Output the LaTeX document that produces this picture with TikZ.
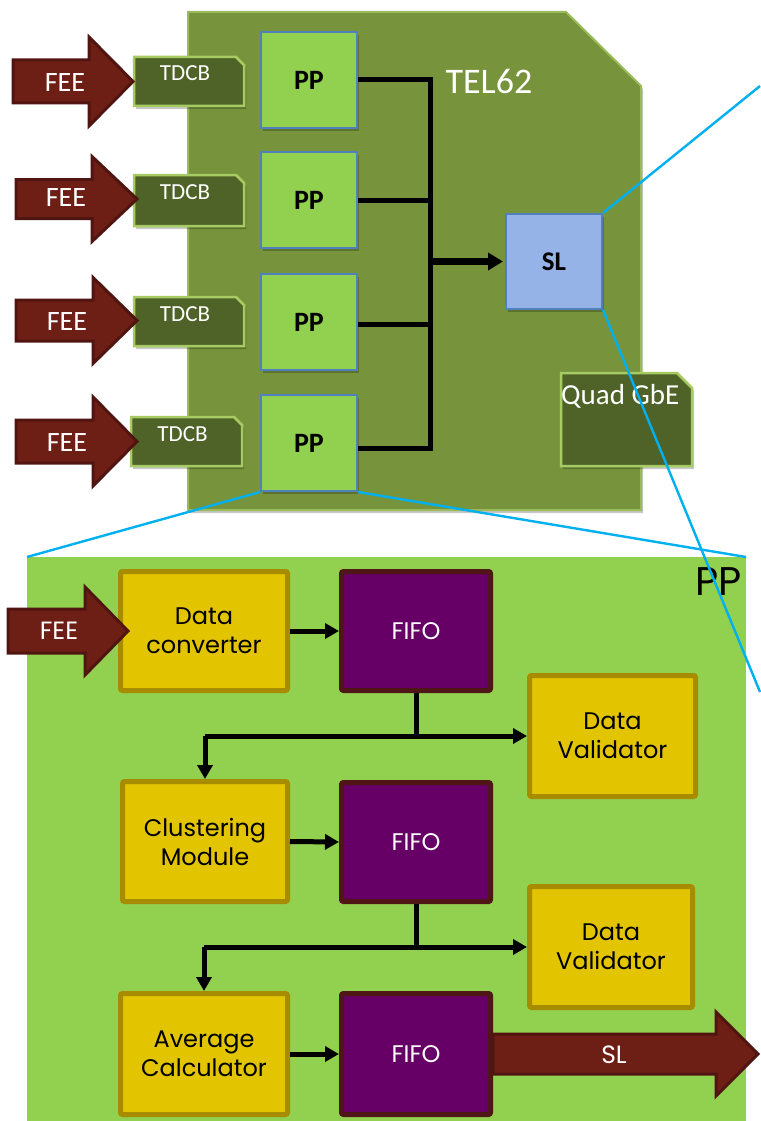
\documentclass[tikz,border=0pt]{standalone}
\usepackage{fontspec}
\setmainfont{Carlito}
\newfontfamily\gothic{Poppins}
\usetikzlibrary{arrows.meta,shadows}

\definecolor{boardgreen}{HTML}{77933C}
\definecolor{boardedge}{HTML}{9BBB59}
\definecolor{cardgreen}{HTML}{4F6228}
\definecolor{cardedge}{HTML}{A6CB62}
\definecolor{ppgreen}{HTML}{92D050}
\definecolor{ppedge}{HTML}{4F81BD}
\definecolor{slblue}{HTML}{95B3E7}
\definecolor{feered}{HTML}{6E1F15}
\definecolor{feeedge}{HTML}{501510}
\definecolor{blockyellow}{HTML}{E2C400}
\definecolor{blockedge}{HTML}{A88C00}
\definecolor{fifopurple}{HTML}{660066}
\definecolor{fifoedge}{HTML}{4F1616}
\definecolor{zoomcyan}{HTML}{00B0F0}

\tikzset{
  softshadow/.style={drop shadow={shadow xshift=2pt,shadow yshift=-3pt,opacity=0.22,fill=black}},
  boardshape/.style={fill=boardgreen,draw=boardedge,line width=2,softshadow},
  cardshape/.style={fill=cardgreen,draw=cardedge,line width=2.5,softshadow},
  frame/.style={inner sep=0,outer sep=0,anchor=north west},
  cardtext/.style={text=white,inner sep=0,anchor=base,font=\fontsize{23}{26}\selectfont},
  ppbox/.style={fill=ppgreen,draw=ppedge,line width=2,minimum size=96,inner sep=0,
    font=\bfseries\fontsize{28}{30}\selectfont,softshadow},
  slbox/.style={fill=slblue,draw=ppedge,line width=2,minimum width=96,minimum height=95,inner sep=0,
    font=\bfseries\fontsize{27}{30}\selectfont,softshadow},
  bus/.style={line width=5,black,line join=miter},
  busarrow/.style={line width=7,black,shorten >=2pt,-{Triangle[length=15pt,width=17pt]}},
  feeshape/.style={fill=feered,draw=feeedge,line width=3,line join=miter},
  feetext/.style={text=white,inner sep=0,font=\fontsize{28}{30}\selectfont},
  gfeetext/.style={text=white,inner sep=0,font=\gothic\fontsize{25}{28}\selectfont},
  block/.style={fill=blockyellow,draw=blockedge,line width=5,rounded corners=2,inner sep=0,
    align=center,font=\gothic\fontsize{24}{29}\selectfont},
  fifo/.style={fill=fifopurple,draw=fifoedge,line width=5,rounded corners=2,inner sep=0,
    text=white,font=\gothic\fontsize{24}{28}\selectfont},
  flow/.style={line width=5,black,line join=miter,-{Triangle[length=14pt,width=15pt]}},
  flowline/.style={line width=5,black,line join=miter},
  zoomline/.style={draw=zoomcyan,line width=2.4},
  pics/fat arrow/.style n args={4}{code={
    \filldraw[feeshape] (0,-#2) -- ({#1-#4},-#2) -- ({#1-#4},-#3) -- (#1,0)
      -- ({#1-#4},#3) -- ({#1-#4},#2) -- (0,#2) -- cycle;
  }},
}

\begin{document}
\begin{tikzpicture}[x=1pt,y=-1pt]
\useasboundingbox (0,0) rectangle (760,1121);

% ---------------- TEL62 board ----------------
\coordinate (bnw) at (188,12);
\coordinate (bcut1) at (566,12);
\coordinate (bcut2) at (641,86);
\coordinate (bse) at (641,510);
\coordinate (bsw) at (188,510);
\path[boardshape] (bnw) -- (bcut1) -- (bcut2) -- (bse) -- (bsw) -- cycle;
\node[text=white,inner sep=0,anchor=base,font=\fontsize{36}{40}\selectfont] (tel62) at (489,94) {TEL62};

% TDCB mezzanine cards (chamfered top-right corner)
\foreach \n/\x/\y/\w/\h in {tdcb1/134/57/110/49, tdcb2/134/175/110/51,
                            tdcb3/134/297/110/49, tdcb4/131/417/111/49} {
  \path[cardshape] (\x,\y) -- ++({\w-8},0) -- ++(8,8) -- ++(0,{\h-8}) -- ++(-\w,0) -- cycle;
  \node[frame,minimum width=\w,minimum height=\h] (\n) at (\x,\y) {};
  \node[cardtext] (\n-label) at ([xshift=-4,yshift=-24]\n.north) {TDCB};
}

% Quad GbE card
\path[cardshape] (561,373) -- (677,373) -- (692,388) -- (692,466) -- (561,466) -- cycle;
\node[frame,minimum width=131,minimum height=93] (quad) at (561,373) {};
\node[text=white,inner sep=0,anchor=base west,font=\fontsize{29}{32}\selectfont]
  (quad-label) at (561,404) {Quad GbE};

% PP and SL FPGAs
\node[ppbox] (pp1) at (309,80) {PP};
\node[ppbox] (pp2) at (309,200) {PP};
\node[ppbox] (pp3) at (309,322) {PP};
\node[ppbox] (pp4) at (309,443) {PP};
\node[slbox] (sl) at (554,261.5) {SL};

% data bus from the PPs to the SL
\coordinate (jt) at (430,80);
\draw[bus] (pp1.east) -- (pp1.east -| jt) -- ([yshift=-5]pp4.east -| jt) -- ([yshift=-5]pp4.east);
\draw[bus] (pp2.east) -- (pp2.east -| jt);
\draw[bus] ([yshift=-2]pp3.east) -- ([yshift=-2]pp3.east -| jt);
\draw[busarrow] (sl.west -| jt) -- (sl.west);

% front-end inputs
\pic at (13,81.5) {fat arrow={120}{21.5}{44.5}{44}};
\pic at (16,199) {fat arrow={121}{19.5}{42.5}{45}};
\pic at (16,320.5) {fat arrow={121}{20.5}{43}{44}};
\pic at (16,441.5) {fat arrow={121}{21.5}{44.5}{44}};
\node[feetext] (fee1) at (65,82.5) {FEE};
\node[feetext] (fee2) at (66,197.5) {FEE};
\node[feetext] (fee3) at (67,321.5) {FEE};
\node[feetext] (fee4) at (67,442.5) {FEE};

% ---------------- PP firmware detail ----------------
\node[fill=ppgreen,inner sep=0,outer sep=0,minimum width=719,minimum height=564] (ppbig) at (386.5,839) {};
\node[inner sep=0,anchor=north east,font=\gothic\fontsize{40}{44}\selectfont] (pplabel) at (742,567) {PP};

\node[block,minimum width=167,minimum height=119] (dc) at (204,631) {Data\\converter};
\node[fifo,minimum width=149,minimum height=119] (fifo1) at (416,631) {FIFO};
\node[block,minimum width=166,minimum height=121] (dv1) at (612.5,736) {Data\\Validator};
\node[block,minimum width=165,minimum height=120] (cm) at (205,841.5) {Clustering\\Module};
\node[fifo,minimum width=149,minimum height=119] (fifo2) at (416,842) {FIFO};
\node[block,minimum width=163,minimum height=121] (dv2) at (611,947) {Data\\Validator};
\node[block,minimum width=167,minimum height=121] (ac) at (204,1054) {Average\\Calculator};
\node[fifo,minimum width=149,minimum height=121] (fifo3) at (416,1054) {FIFO};

\draw[flow] (dc.east) -- (fifo1.west);
\draw[flowline] (fifo1.south) -- (fifo1.south |- dv1.west);
\draw[flow] (cm.north |- dv1.west) -- (dv1.west);
\draw[flow] (cm.north |- dv1.west) -- (cm.north);

\draw[flow] (cm.east) -- (fifo2.west);
\draw[flowline] (fifo2.south) -- (fifo2.south |- dv2.west);
\draw[flow] (ac.north |- dv2.west) -- (dv2.west);
\draw[flow] (ac.north |- dv2.west) -- (ac.north);

\draw[flow] (ac.east) -- (fifo3.west);

% input and output of the PP firmware
\pic at (8,631) {fat arrow={120}{22}{44}{43}};
\node[gfeetext] (fee5) at (59,631) {FEE};
\pic at (fifo3.east) {fat arrow={265}{20}{42}{42}};
\node[gfeetext] (slout) at (614,1054.5) {SL};

% ---------------- zoom guide lines ----------------
\coordinate (slzoomtop) at (760,86);
\coordinate (slzoombot) at (760,692);
\draw[zoomline] (pp4.south west) -- (ppbig.north west);
\draw[zoomline] (pp4.south east) -- (ppbig.north east);
\draw[zoomline] (sl.north east) -- (slzoomtop);
\draw[zoomline] (sl.south east) -- (slzoombot);
\end{tikzpicture}
\end{document}
